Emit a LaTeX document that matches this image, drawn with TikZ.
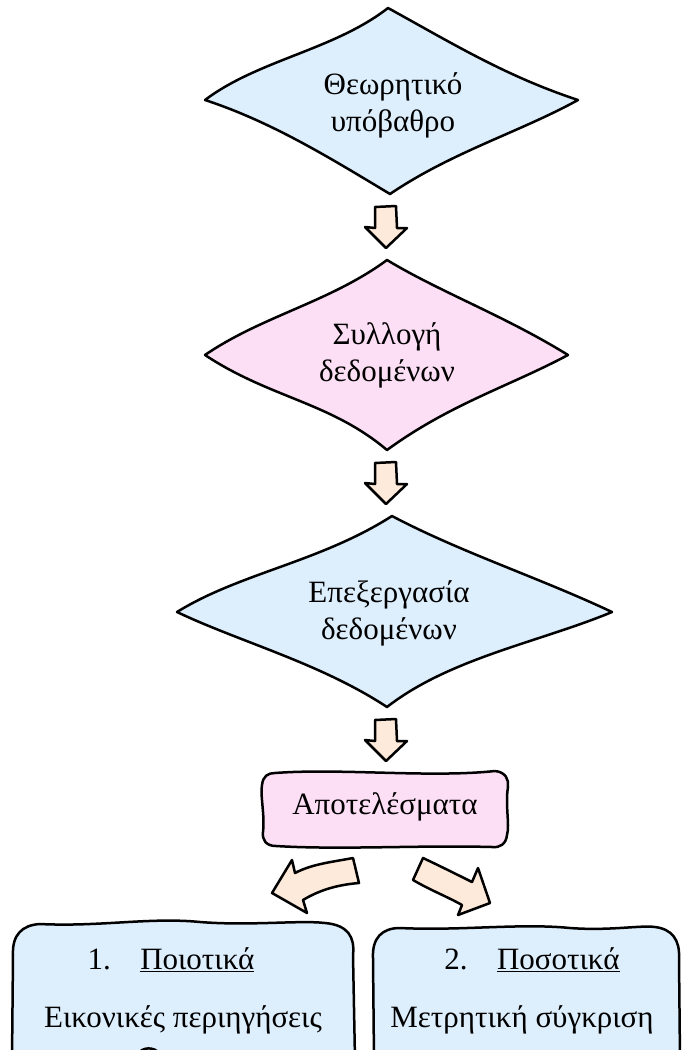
\documentclass[tikz,border=0pt]{standalone}
\usepackage{fontspec}
\setmainfont{Liberation Serif}
\definecolor{boxblue}{RGB}{221,238,252}
\definecolor{boxpink}{RGB}{252,223,245}
\definecolor{peach}{RGB}{253,234,218}
\begin{document}
\begin{tikzpicture}[x=1pt,y=-1pt,
  outline/.style={draw=black,line width=2.5pt,line join=round},
  bluebody/.style={outline,fill=boxblue},
  pinkbody/.style={outline,fill=boxpink},
  arrowbody/.style={outline,fill=peach},
  txt/.style={font=\fontsize{31}{37}\selectfont,align=center,inner sep=0pt},
  downarr/.pic={\draw[arrowbody] (-11,0) -- (10,-1) -- (11,21) -- (21,21) -- (0,41) -- (-21,20) -- (-11,21) -- cycle;}
]
\useasboundingbox (0,0) rectangle (684,1050);

% first decision: theory
\draw[bluebody] (205,100) .. controls (258,60) and (334,50) .. (388,8)
  .. controls (450,42) and (505,76) .. (578,100)
  .. controls (520,132) and (452,152) .. (390,194)
  .. controls (330,158) and (272,122) .. (205,100) -- cycle;
\node[txt] (theory) at (393,105) {Θεωρητικό\\υπόβαθρο};

\pic at (386,207) {downarr};

% second decision: collection
\draw[pinkbody] (205,355) .. controls (262,316) and (330,302) .. (387,260)
  .. controls (440,292) and (505,316) .. (568,355)
  .. controls (510,386) and (450,404) .. (387,450)
  .. controls (330,402) and (270,398) .. (205,355) -- cycle;
\node[txt] (collect) at (387,355) {Συλλογή\\δεδομένων};

\pic at (386,463) {downarr};

% third decision: processing
\draw[bluebody] (177,612) .. controls (240,573) and (320,562) .. (392,516)
  .. controls (460,552) and (540,578) .. (612,612)
  .. controls (540,642) and (450,658) .. (387,707)
  .. controls (320,663) and (240,642) .. (177,612) -- cycle;
\node[txt] (process) at (389,613) {Επεξεργασία\\δεδομένων};

\pic at (386,720) {downarr};

% results box
\draw[pinkbody] (275,773) .. controls (340,768) and (430,778) .. (495,771)
  .. controls (506,772) and (509,780) .. (508,787)
  .. controls (505,805) and (510,825) .. (507,835)
  .. controls (506,844) and (500,848) .. (492,847)
  .. controls (420,845) and (340,850) .. (276,846)
  .. controls (266,846) and (262,840) .. (263,832)
  .. controls (265,815) and (260,795) .. (262,785)
  .. controls (263,776) and (268,773) .. (275,773) -- cycle;
\node[txt] (results) at (385,807) {Αποτελέσματα};

% curved arrows to the two branches
\draw[arrowbody] (353,858) -- (359,883)
  .. controls (335,885) and (318,891) .. (303,900)
  -- (307,913) -- (272,893) -- (292,860) -- (295,873)
  .. controls (312,864) and (332,862) .. (353,858) -- cycle;
\draw[arrowbody] (423,858) -- (413,880)
  .. controls (430,890) and (448,897) .. (462,905)
  -- (458,915) -- (490,903) -- (478,868) -- (472,882)
  .. controls (458,875) and (440,866) .. (423,858) -- cycle;

% qualitative branch
\draw[bluebody] (12,1060) -- (13,955)
  .. controls (12,935) and (22,925) .. (40,924)
  .. controls (100,927) and (150,917) .. (200,922)
  .. controls (250,926) and (300,920) .. (325,923)
  .. controls (348,925) and (355,937) .. (353,955)
  -- (355,1060);
\node[txt] (qual) at (171,960) {1.\hspace{0.95em}\underline{Ποιοτικά}};
\node[txt] (qualtxt) at (183,1020) {Εικονικές περιηγήσεις};
% top of a further arrow below the qualitative box
\draw[arrowbody] (138,1054) .. controls (142,1047) and (154,1046) .. (160,1054);

% quantitative branch
\draw[bluebody] (374,1060) -- (373,958)
  .. controls (372,938) and (382,928) .. (400,928)
  .. controls (460,931) and (520,923) .. (570,928)
  .. controls (610,931) and (640,925) .. (655,927)
  .. controls (672,929) and (680,940) .. (679,958)
  -- (680,1060);
\node[txt] (quan) at (532,960) {2.\hspace{0.95em}\underline{Ποσοτικά}};
\node[txt] (quantxt) at (522,1020) {Μετρητική σύγκριση};
\end{tikzpicture}
\end{document}
